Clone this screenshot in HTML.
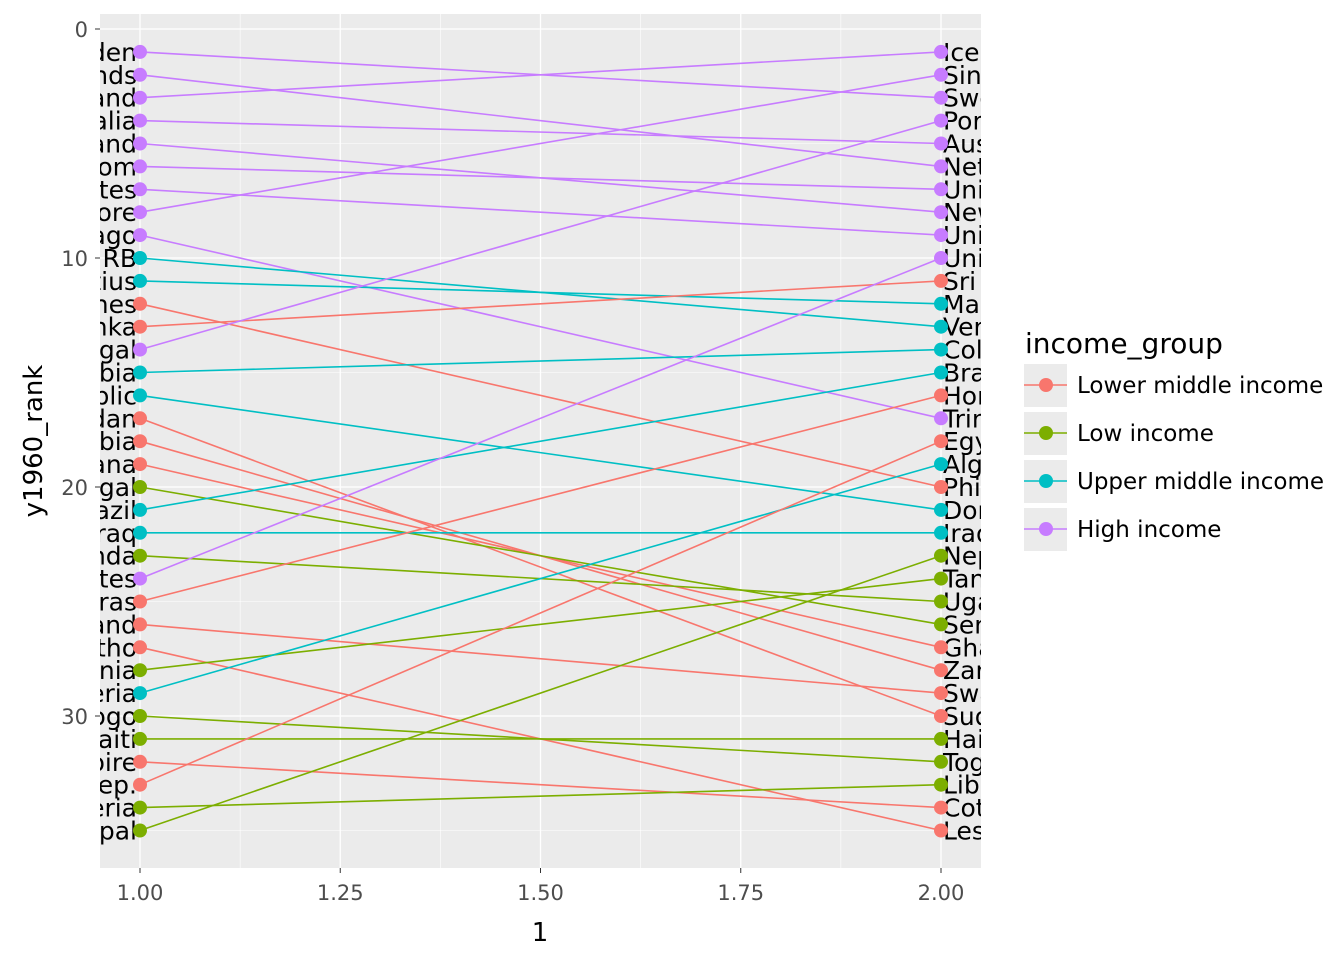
<!DOCTYPE html>
<html><head><meta charset="utf-8"><style>body{margin:0;background:#fff}svg{display:block}text{font-family:"DejaVu Sans","Liberation Sans",sans-serif}</style></head>
<body>
<svg id="s" width="1344" height="960" xmlns="http://www.w3.org/2000/svg">
<defs><clipPath id="cp"><rect x="100" y="14" width="881" height="854"/></clipPath></defs>
<rect x="100" y="14" width="881" height="854" fill="#ebebeb"/>
<g id="grid"></g>
<g id="data" clip-path="url(#cp)"></g>
<g id="axes" font-size="21" fill="#4d4d4d"></g>
<text x="540" y="941" font-size="26" text-anchor="middle" fill="#000">1</text>
<text transform="translate(42,441) rotate(-90)" font-size="26" text-anchor="middle" fill="#000">y1960_rank</text>
<g id="leg"></g>
</svg>
<script>
const ns="http://www.w3.org/2000/svg";
function el(p,t,a,txt){const e=document.createElementNS(ns,t);for(const k in a)e.setAttribute(k,a[k]);if(txt!=null)e.textContent=txt;document.getElementById(p).appendChild(e);return e;}
const X=v=>140+(v-1)*801, Y=r=>29+22.9*r;
for(const v of [1.125,1.375,1.625,1.875])el("grid","line",{x1:X(v),x2:X(v),y1:14,y2:868,stroke:"#fff","stroke-width":0.6});
for(const r of [5,15,25,35])el("grid","line",{x1:100,x2:981,y1:Y(r),y2:Y(r),stroke:"#fff","stroke-width":0.6});
for(const v of [1,1.25,1.5,1.75,2]){el("grid","line",{x1:X(v),x2:X(v),y1:14,y2:868,stroke:"#fff","stroke-width":1.3});
el("axes","line",{x1:X(v),x2:X(v),y1:868,y2:873,stroke:"#333"});el("axes","text",{x:X(v),y:900,"text-anchor":"middle"},v.toFixed(2));}
for(const r of [0,10,20,30]){el("grid","line",{x1:100,x2:981,y1:Y(r),y2:Y(r),stroke:"#fff","stroke-width":1.3});
el("axes","line",{x1:95,x2:100,y1:Y(r),y2:Y(r),stroke:"#333"});el("axes","text",{x:88,y:Y(r)+8,"text-anchor":"end"},r);}
const C={L:"#f8766d",W:"#7cae00",U:"#00bfc4",H:"#c77cff"};
const d=[["Sweden",1,3,"H"],["Netherlands",2,6,"H"],["Iceland",3,1,"H"],["Australia",4,5,"H"],["New Zealand",5,8,"H"],["United Kingdom",6,7,"H"],["United States",7,9,"H"],["Singapore",8,2,"H"],["Trinidad and Tobago",9,17,"H"],["Venezuela, RB",10,13,"U"],["Mauritius",11,12,"U"],["Philippines",12,20,"L"],["Sri Lanka",13,11,"L"],["Portugal",14,4,"H"],["Colombia",15,14,"U"],["Dominican Republic",16,21,"U"],["Sudan",17,30,"L"],["Zambia",18,28,"L"],["Ghana",19,27,"L"],["Senegal",20,26,"W"],["Brazil",21,15,"U"],["Iraq",22,22,"U"],["Uganda",23,25,"W"],["United Arab Emirates",24,10,"H"],["Honduras",25,16,"L"],["Swaziland",26,29,"L"],["Lesotho",27,35,"L"],["Tanzania",28,24,"W"],["Algeria",29,19,"U"],["Togo",30,32,"W"],["Haiti",31,31,"W"],["Cote d'Ivoire",32,34,"L"],["Egypt, Arab Rep.",33,18,"L"],["Liberia",34,33,"W"],["Nepal",35,23,"W"]];
for(const [n,a,b,g] of d)el("data","line",{x1:X(1),y1:Y(a),x2:X(2),y2:Y(b),stroke:C[g],"stroke-width":1.6});
for(const [n,a,b,g] of d){el("data","text",{x:X(1)-3,y:Y(a)+9,"text-anchor":"end","font-size":25,fill:"#000"},n);el("data","text",{x:X(2)+2,y:Y(b)+9,"font-size":25,fill:"#000"},n);}
for(const [n,a,b,g] of d){el("data","circle",{cx:X(1),cy:Y(a),r:7,fill:C[g]});el("data","circle",{cx:X(2),cy:Y(b),r:7,fill:C[g]});}
el("leg","text",{x:1025,y:353,"font-size":28,fill:"#000"},"income_group");
[["Lower middle income","L"],["Low income","W"],["Upper middle income","U"],["High income","H"]].forEach(([t,g],i)=>{const y=362+i*48;
el("leg","rect",{x:1024,y:y+2,width:43,height:43,fill:"#ebebeb"});
el("leg","line",{x1:1024,x2:1067,y1:y+23,y2:y+23,stroke:C[g],"stroke-width":1.6});
el("leg","circle",{cx:1046,cy:y+23,r:7,fill:C[g]});
el("leg","text",{x:1077,y:y+31,"font-size":23,fill:"#000"},t);});
</script>
</body></html>
